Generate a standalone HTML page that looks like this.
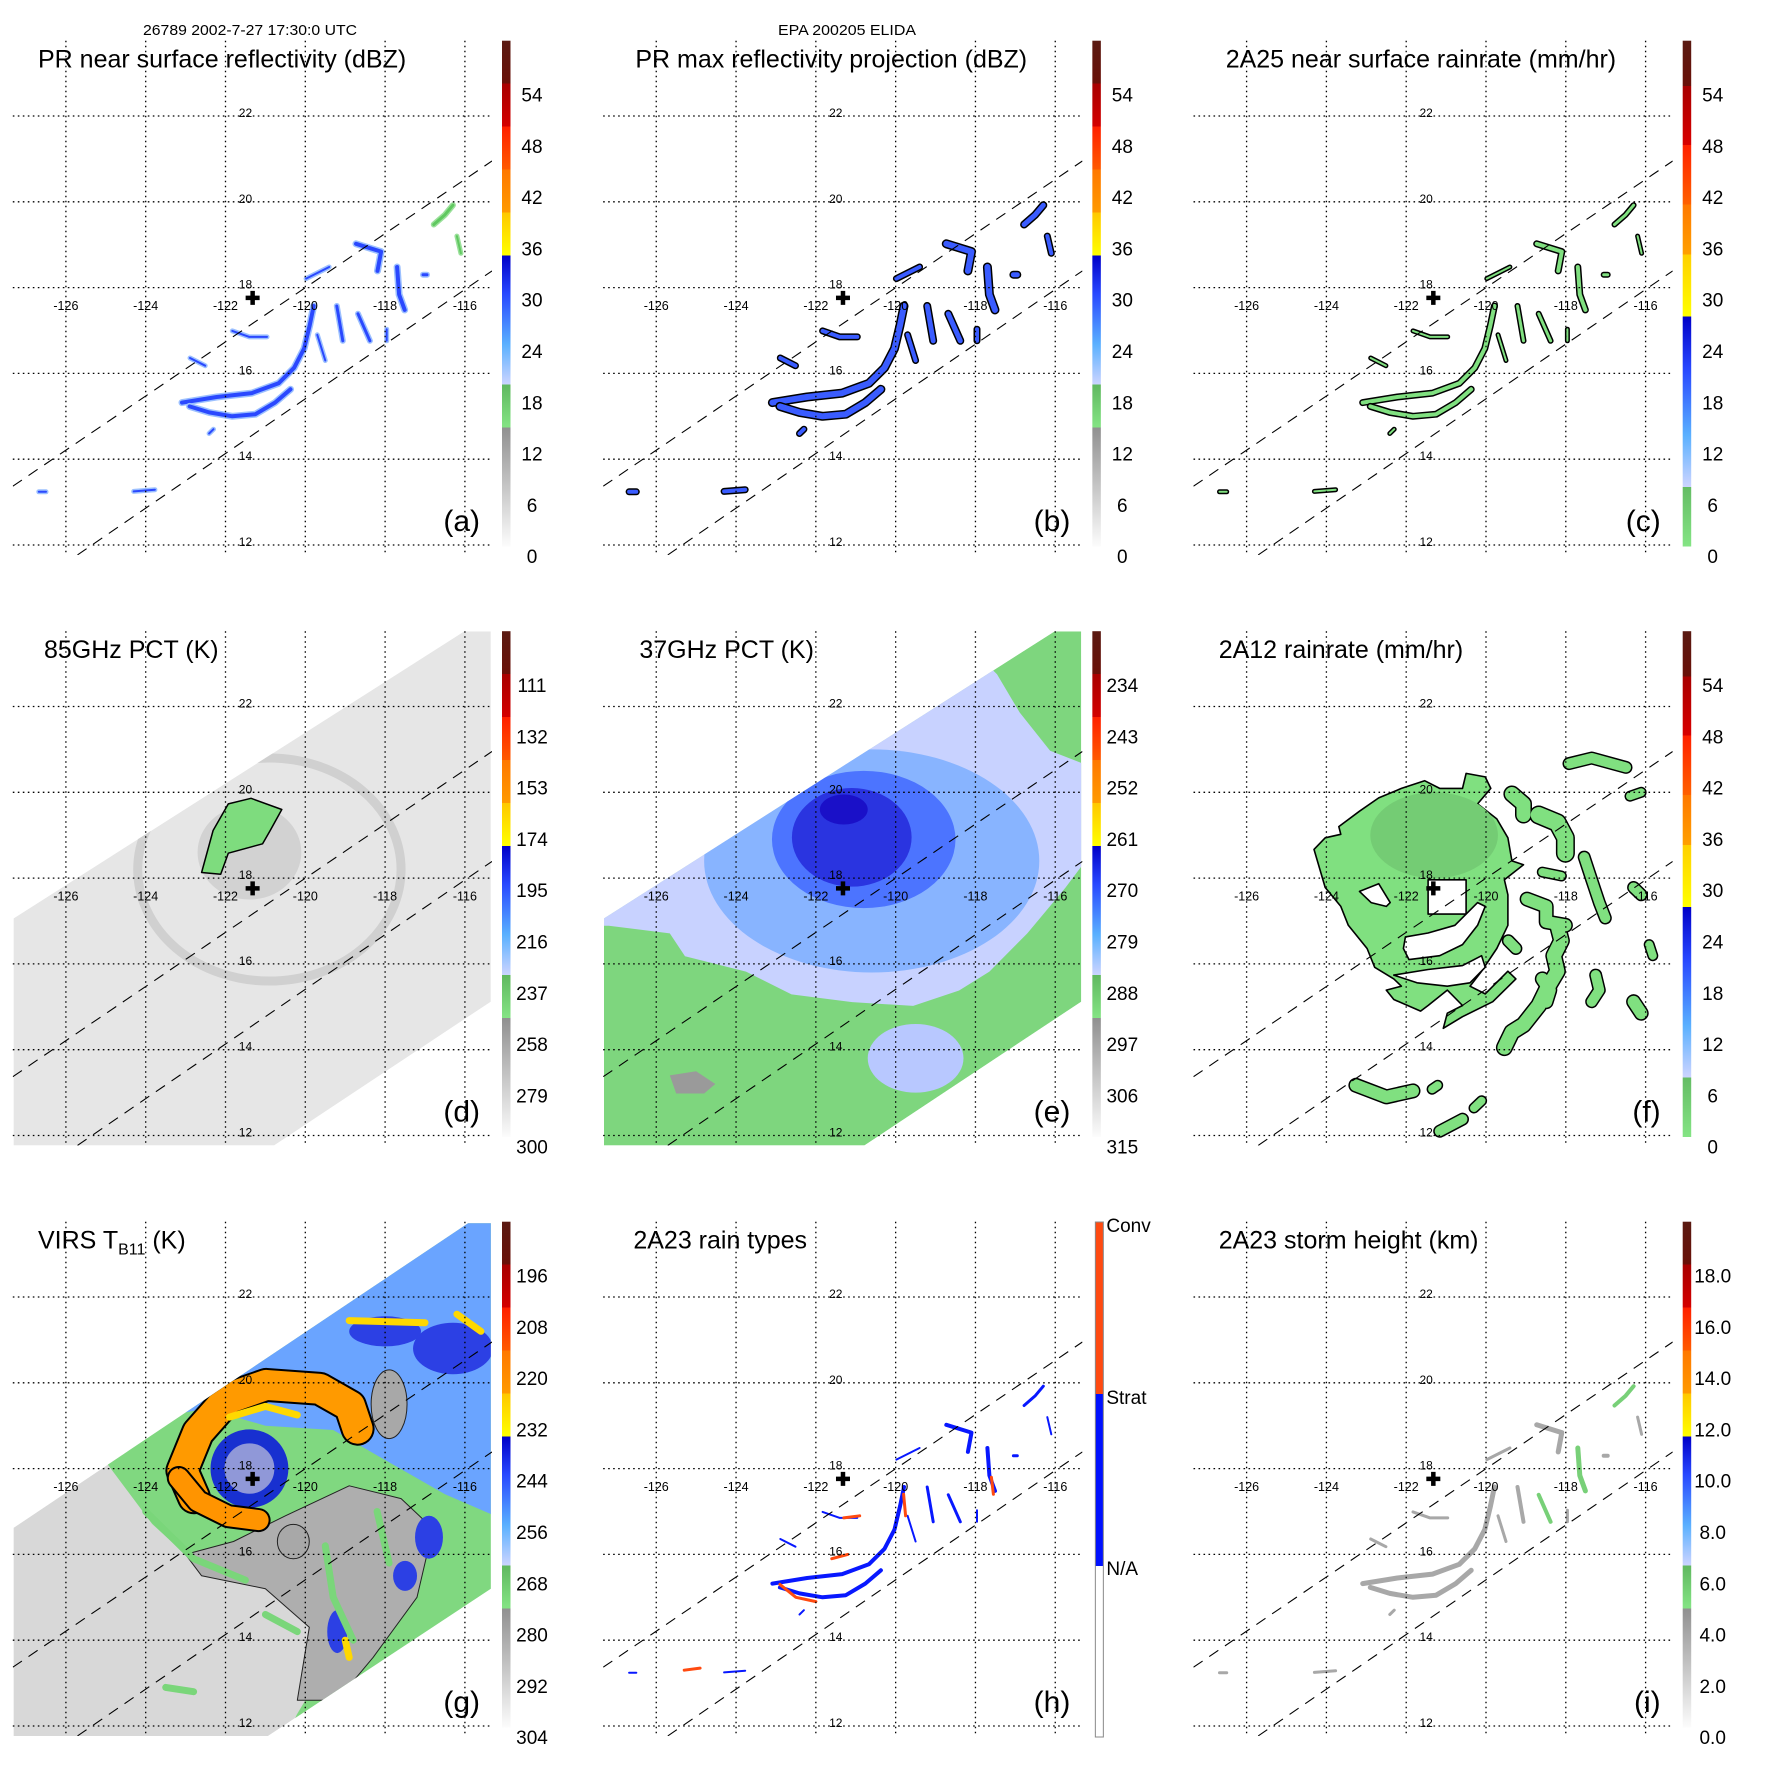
<!DOCTYPE html>
<html><head><meta charset="utf-8">
<style>html,body{margin:0;padding:0;background:#fff}svg{display:block}text{font-family:"Liberation Sans",Arial,sans-serif;fill:#000}</style>
</head><body>
<svg id="fig" width="1771" height="1771" viewBox="0 0 1771 1771" xmlns="http://www.w3.org/2000/svg">
<defs id="defs"></defs>
<rect x="0" y="0" width="1771" height="1771" fill="#fff"/>
<text x="250" y="35" font-size="15" text-anchor="middle" textLength="214" lengthAdjust="spacingAndGlyphs">26789 2002-7-27 17:30:0 UTC</text>
<text x="847" y="35" font-size="15" text-anchor="middle" textLength="138" lengthAdjust="spacingAndGlyphs">EPA 200205 ELIDA</text>
</svg>
<script>
// ---------- data ----------
const lonTicks = [-126,-124,-122,-120,-118,-116];
const latTicks = [22,20,18,16,14,12];
const stormCenter = [-121.32,17.76];
const prSwathUpper = [[-127.33,13.37],[-115.32,20.95]];
const prSwathLower = [[-125.71,11.77],[-115.32,18.39]];
const tmiSwath = [[-127.31,17.06],[-116.02,23.75],[-115.35,23.75],[-115.35,15.12],[-120.78,11.77],[-127.31,11.77]];
const virsSwath = [[-127.31,16.62],[-115.92,23.72],[-115.35,23.72],[-115.35,15.2],[-120.98,11.74],[-127.31,11.74]];

const labelsDbz = ['54','48','42','36','30','24','18','12','6','0'];
const labels85 = ['111','132','153','174','195','216','237','258','279','300'];
const labels37 = ['234','243','252','261','270','279','288','297','306','315'];
const labelsVirs = ['196','208','220','232','244','256','268','280','292','304'];
const labelsHeight = ['18.0','16.0','14.0','12.0','10.0','8.0','6.0','4.0','2.0','0.0'];
const rainTypeLabels = ['Conv','Strat','N/A'];

const prBands = [
 [[-123.09,15.32],[-122.22,15.45],[-121.34,15.54],[-120.67,15.77],[-120.28,16.13],[-120.03,16.58],[-119.89,17.12],[-119.79,17.57]],
 [[-122.90,15.23],[-122.41,15.09],[-121.83,15.00],[-121.25,15.05],[-120.76,15.32],[-120.37,15.63]],
 [[-122.89,16.36],[-122.51,16.18]],
 [[-121.83,16.99],[-121.4,16.85],[-120.96,16.85]],
 [[-119.21,17.57],[-119.06,16.76]],
 [[-118.68,17.39],[-118.38,16.76]],
 [[-117.96,17.03],[-117.96,16.76]],
 [[-118.73,19.02],[-118.10,18.84],[-118.19,18.39]],
 [[-117.70,18.48],[-117.65,17.84],[-117.51,17.48]],
 [[-117.05,18.30],[-116.95,18.30]],
 [[-119.98,18.21],[-119.40,18.48]],
 [[-126.68,13.24],[-126.5,13.24]],
 [[-124.3,13.25],[-123.77,13.29]],
 [[-122.41,14.6],[-122.3,14.7]],
 [[-119.7,16.9],[-119.5,16.3]],
 [[-116.78,19.47],[-116.5,19.7],[-116.30,19.92]],
 [[-116.2,19.2],[-116.1,18.8]]
];
const prBandWidths = [5,5,3,3,4,4,3,5,5,4,3,3,3,3,3,4,3];
const prGreenBands = [15,16];
const convBands = [
 [[-121.3,16.85],[-120.9,16.9]],
 [[-122.9,15.3],[-122.5,15.0],[-122.0,14.9]],
 [[-119.8,17.4],[-119.75,16.9]],
 [[-117.6,17.8],[-117.55,17.4]],
 [[-125.3,13.3],[-124.9,13.35]],
 [[-121.6,15.9],[-121.2,16.0]]
];

const d85Ring = [-120.9,18.2,3.3,2.6];
const d85Core = [-121.4,18.6,1.3,1.1];
const d85Blob = [[-122.60,18.13],[-122.31,19.11],[-121.93,19.73],[-121.36,19.86],[-120.59,19.60],[-120.88,19.11],[-121.07,18.80],[-121.93,18.58],[-122.12,18.09]];

const e37Lavender = [[-127.19,16.89],[-125.66,16.71],[-125.28,16.18],[-123.75,15.82],[-122.61,15.29],[-121.09,15.11],[-119.56,15.02],[-118.41,15.38],[-117.65,15.82],[-116.70,16.71],[-115.74,17.78],[-115.17,18.49],[-115.17,20.62],[-116.13,20.97],[-116.89,21.86],[-117.46,22.75],[-117.84,23.10],[-124,25],[-130,20],[-130,16.89]];
const e37LightBlue = [-120.6,18.4,4.2,2.6];
const e37MidBlue = [-120.8,18.9,2.3,1.6];
const e37DarkBlue = [-121.1,18.95,1.5,1.15];
const e37Deepest = [-121.3,19.6,0.6,0.35];
const e37LowerBlue = [-119.5,13.8,1.2,0.8];
const e37Gray = [[-125.66,13.4],[-125.0,13.5],[-124.52,13.2],[-124.8,12.98],[-125.5,12.98]];

const fMainBlob = [[-123.69,19.20],[-123.17,19.56],[-122.69,19.87],[-122.12,20.09],[-121.54,20.27],[-121.16,20.09],[-120.59,20.09],[-120.50,20.44],[-120.02,20.36],[-119.88,20.09],[-120.21,19.73],[-119.73,19.38],[-119.45,18.94],[-119.35,18.40],[-119.06,18.31],[-119.54,17.96],[-119.45,17.61],[-119.45,16.90],[-119.73,16.36],[-120.11,15.83],[-120.40,15.48],[-120.02,15.30],[-119.45,15.83],[-119.25,15.65],[-119.83,15.12],[-120.59,14.77],[-121.07,14.50],[-120.97,14.85],[-120.59,15.03],[-120.97,15.39],[-121.45,15.03],[-121.64,14.90],[-122.31,15.17],[-122.50,15.39],[-122.12,15.48],[-122.31,15.65],[-122.79,15.92],[-122.98,16.36],[-123.45,16.90],[-123.64,17.34],[-124.03,17.78],[-124.31,18.67],[-124.03,18.94],[-123.64,19.02]];
const fHoles = [
 [[-121.45,17.96],[-120.5,17.96],[-120.5,17.16],[-121.45,17.16]],
 [[-122.02,16.63],[-121.45,16.72],[-120.78,16.90],[-120.21,17.43],[-120.02,17.34],[-120.21,16.90],[-120.59,16.45],[-121.16,16.19],[-121.93,16.10],[-122.07,16.36]],
 [[-123.17,17.69],[-122.69,17.87],[-122.40,17.43],[-122.50,17.34],[-122.88,17.43]],
 [[-122.31,15.74],[-121.45,15.87],[-120.59,15.96],[-120.11,16.19],[-120.02,15.92],[-120.40,15.56],[-120.97,15.48],[-121.73,15.56]]
];
const fBands = [
 [[-119.35,19.96],[-119.06,19.73],[-119.06,19.47]],
 [[-118.68,19.47],[-118.21,19.29],[-118.01,18.94],[-118.01,18.58]],
 [[-117.92,20.67],[-117.35,20.80],[-116.49,20.58]],
 [[-116.39,19.91],[-116.11,20.00]],
 [[-117.54,18.49],[-117.35,17.96],[-117.16,17.43],[-117.01,17.07]],
 [[-118.59,18.14],[-118.11,18.05]],
 [[-118.97,17.51],[-118.49,17.34],[-118.49,16.98],[-118.01,16.90]],
 [[-118.21,16.90],[-118.11,16.54],[-118.30,16.19],[-118.21,15.83],[-118.49,15.39],[-118.68,15.03],[-119.06,14.58],[-119.35,14.41],[-119.54,14.05]],
 [[-118.59,15.65],[-118.40,15.39],[-118.49,15.12]],
 [[-119.44,16.54],[-119.25,16.36]],
 [[-117.25,15.74],[-117.16,15.39],[-117.35,15.12]],
 [[-116.30,15.12],[-116.11,14.85]],
 [[-115.91,16.45],[-115.82,16.19]],
 [[-116.30,17.78],[-116.11,17.61]],
 [[-123.26,13.17],[-122.50,12.90],[-121.83,13.04]],
 [[-121.16,12.10],[-120.59,12.38]],
 [[-120.30,12.64],[-120.11,12.81]],
 [[-121.35,13.08],[-121.21,13.17]]
];
const fBandWidths = [14,16,10,8,10,8,12,14,12,10,10,12,8,10,12,10,8,8];

const gGreenRegion = [[-124.98,18.13],[-123.84,16.71],[-122.69,15.73],[-120.98,15.29],[-119.45,14.49],[-119.64,13.16],[-120.21,12.27],[-120.6,11.5],[-114,11.5],[-114,25],[-126,25]];
const gLightBlueRegion = [[-123.6,19.2],[-122.5,19.4],[-121.0,19.0],[-119.3,18.9],[-118.0,18.2],[-116.5,17.4],[-114,16.4],[-114,25],[-124.5,25]];
const gGrayRegion = [[-123.0,16.0],[-121.8,16.3],[-120.5,16.9],[-118.9,17.6],[-117.6,17.3],[-116.8,16.6],[-117.2,15.0],[-118.3,13.6],[-119.2,12.6],[-120.2,12.6],[-119.9,14.3],[-121.0,15.2],[-122.6,15.5]];
const gGrayPatches = [[-117.9,19.5,0.45,0.8],[-120.3,16.3,0.4,0.4]];
const gBluePatches = [[-116.3,20.8,1.0,0.6],[-118.0,21.2,0.9,0.35],[-116.9,16.4,0.35,0.5],[-119.2,14.2,0.25,0.5],[-117.5,15.5,0.3,0.35]];
const gOuterArc = [[-122.79,17.33],[-123.08,17.95],[-122.69,18.84],[-121.93,19.64],[-120.98,19.95],[-119.64,19.86],[-118.88,19.46],[-118.69,18.93]];
const gLowerArc = [[-123.17,17.78],[-122.69,17.24],[-121.93,16.89],[-121.17,16.80]];
const gYellowStreaks = [[[-118.9,21.45],[-117.0,21.4]],[[-116.2,21.6],[-115.6,21.2]],[[-121.9,19.2],[-121.0,19.45],[-120.2,19.25]],[[-119.0,14.0],[-118.9,13.6]]];
const gGreenLines = [[[-124.0,17.0],[-122.8,15.9],[-121.5,15.4]],[[-123.5,12.9],[-122.8,12.8]],[[-121.0,14.6],[-120.2,14.2]],[[-119.5,16.2],[-119.3,15.0],[-118.8,14.0]],[[-118.2,17.0],[-117.9,15.8]]];
const gEyeRing = [-121.4,18.0,0.8,0.75];

// ---------- rendering ----------
const NS='http://www.w3.org/2000/svg';
const svg=document.getElementById('fig');
const defs=document.getElementById('defs');
function mk(tag,attrs,parent){const e=document.createElementNS(NS,tag);for(const k in attrs)e.setAttribute(k,attrs[k]);parent.appendChild(e);return e;}
function geo(ox,oy){return {x:lon=>ox+65.9+(lon+126)*39.9,y:lat=>oy+116+(22-lat)*42.9};}
function pts(g,a){return a.map(p=>g.x(p[0]).toFixed(1)+','+g.y(p[1]).toFixed(1)).join(' ');}
function poly(par,g,a,fill,stroke,sw,name){const e=mk('polygon',{points:pts(g,a),fill:fill,stroke:stroke||'none','stroke-width':sw||0,'stroke-linejoin':'round'},par);


return e;}
function pline(par,g,a,color,w,name){const e=mk('polyline',{points:pts(g,a),fill:'none',stroke:color,'stroke-width':w,'stroke-linecap':'round','stroke-linejoin':'round'},par);


return e;}
function ell(par,g,d,fill,name,extra){const e=mk('ellipse',{cx:g.x(d[0]),cy:g.y(d[1]),rx:d[2]*39.9,ry:d[3]*42.9,fill:fill},par);
for(const k in (extra||{}))e.setAttribute(k,extra[k]);


return e;}

function grad(id,stops){const lg=mk('linearGradient',{id:id,x1:0,y1:0,x2:0,y2:1},defs);stops.forEach(s=>mk('stop',{offset:s[0],'stop-color':s[1]},lg));}
grad('palA',[[0,'#5a1a12'],[0.085,'#6a1008'],[0.085,'#a80000'],[0.17,'#d40000'],[0.17,'#ff2000'],[0.255,'#ff5a00'],[0.255,'#ff7800'],[0.34,'#ff9a00'],[0.34,'#ffc800'],[0.425,'#ffff00'],[0.425,'#0000c8'],[0.5,'#2848ff'],[0.6,'#5ab0ff'],[0.68,'#ccd4ff'],[0.68,'#60b860'],[0.765,'#84e484'],[0.765,'#909090'],[1,'#fcfcfc']]);
grad('palF',[[0,'#5a1a12'],[0.09,'#6a1008'],[0.09,'#a80000'],[0.206,'#d80000'],[0.206,'#ff2000'],[0.324,'#ff6000'],[0.324,'#ff7800'],[0.423,'#ffa000'],[0.423,'#ffd000'],[0.545,'#ffff00'],[0.545,'#0000c8'],[0.65,'#2848ff'],[0.78,'#5ab0ff'],[0.882,'#ccd4ff'],[0.882,'#64bc64'],[1,'#84e484']]);

const panels=[
 {id:'a',col:0,row:0,title:'PR near surface reflectivity (dBZ)',tx:38,labels:labelsDbz,pal:'palA',kind:'pr'},
 {id:'b',col:1,row:0,title:'PR max reflectivity projection (dBZ)',tx:45,labels:labelsDbz,pal:'palA',kind:'pr'},
 {id:'c',col:2,row:0,title:'2A25 near surface rainrate (mm/hr)',tx:45,labels:labelsDbz,pal:'palF',kind:'pr'},
 {id:'d',col:0,row:1,title:'85GHz PCT (K)',tx:44,labels:labels85,pal:'palA',kind:'d'},
 {id:'e',col:1,row:1,title:'37GHz PCT (K)',tx:49,labels:labels37,pal:'palA',kind:'e'},
 {id:'f',col:2,row:1,title:'2A12 rainrate (mm/hr)',tx:38,labels:labelsDbz,pal:'palF',kind:'f'},
 {id:'g',col:0,row:2,title:'VIRS',tx:38,labels:labelsVirs,pal:'palA',kind:'g'},
 {id:'h',col:1,row:2,title:'2A23 rain types',tx:43,labels:null,pal:null,kind:'pr'},
 {id:'i',col:2,row:2,title:'2A23 storm height (km)',tx:38,labels:labelsHeight,pal:'palA',kind:'pr'}
];

function drawPR(par,g,id){
 prBands.forEach((b,i)=>{
  const w=prBandWidths[i];const green=prGreenBands.includes(i);
  if(id==='a'){pline(par,g,b,green?'#9ae09a':'#9cc0ff',w+2,'rain-cell-halo');pline(par,g,b,green?'#60c860':'#2a48ff',w-1,'rain-cell');}
  else if(id==='b'){pline(par,g,b,'#000',w+4,'rain-cell-contour');pline(par,g,b,'#3a5cff',w+1,'rain-cell');}
  else if(id==='c'){pline(par,g,b,'#000',w+2,'rain-cell-contour');pline(par,g,b,'#80e080',w-1,'rain-cell');}
  else if(id==='h'){pline(par,g,b,'#0818ff',w-1,'stratiform-cell');}
  else if(id==='i'){pline(par,g,b,(i===5||i===8||i===15)?'#78d078':'#a8a8a8',w,'storm-height-cell');}
 });
 if(id==='h'){convBands.forEach(b=>pline(par,g,b,'#ff4a10',3,'convective-cell'));}
}

panels.forEach(P=>{
 const ox=P.col*590.35, oy=P.row*590.5, g=geo(ox,oy);
 const grp=mk('g',{},svg);
 
 
 const cp=mk('clipPath',{id:'clip'+P.id},defs);
 mk('rect',{x:ox+12.8,y:oy+40.7,width:479.2,height:514.3},cp);
 const img=mk('g',{'clip-path':'url(#clip'+P.id+')'},grp);
 
 
 if(P.kind==='pr') drawPR(img,g,P.id);
 if(P.kind==='d'||P.kind==='e'||P.kind==='g'){
  const sc=mk('clipPath',{id:'sw'+P.id},defs);
  mk('polygon',{points:pts(g,P.kind==='g'?virsSwath:tmiSwath)},sc);
  const sg=mk('g',{'clip-path':'url(#sw'+P.id+')'},img);
  
  
  if(P.kind==='d'){
   poly(sg,g,tmiSwath,'#e6e6e6','','', 'swath-background');
   ell(sg,g,d85Ring,'none','rainband-ring',{stroke:'#d0d0d0','stroke-width':9});
   ell(sg,g,d85Core,'#d2d2d2','inner-core');
   poly(sg,g,d85Blob,'#7edc7e','#000',1.5,'ice-scattering-region');
  }
  if(P.kind==='e'){
   poly(sg,g,tmiSwath,'#7ed67e','','', 'swath-background');
   poly(sg,g,e37Lavender,'#c8d2ff','','', 'light-precip-region');
   ell(sg,g,e37LowerBlue,'#b8c8ff','southern-rain');
   ell(sg,g,e37LightBlue,'#88b4ff','moderate-rain-region');
   ell(sg,g,e37MidBlue,'#4c74ff','heavy-rain-region');
   ell(sg,g,e37DarkBlue,'#2a34e0','core-rain-region');
   ell(sg,g,e37Deepest,'#1a10c8','max-rain-region');
   poly(sg,g,e37Gray,'#9a9a9a','','', 'warm-patch');
  }
  if(P.kind==='g'){
   poly(sg,g,virsSwath,'#d8d8d8','','', 'swath-background');
   poly(sg,g,gGreenRegion,'#80d880','','', 'cloud-region');
   poly(sg,g,gLightBlueRegion,'#6aa4ff','','', 'cold-cloud-region');
   poly(sg,g,gGrayRegion,'#aeaeae','#222',1,'warm-cloud-region');
   gBluePatches.forEach(d=>ell(sg,g,d,'#2c40e4','very-cold-cloud'));
   gGrayPatches.forEach(d=>ell(sg,g,d,'#a8a8a8','warm-gap',{stroke:'#222','stroke-width':1}));
   gGreenLines.forEach(l=>pline(sg,g,l,'#7ad67a',7,'rainband'));
   ell(sg,g,gEyeRing,'#9098d8','eyewall-ring',{stroke:'#1830d0','stroke-width':14});
   pline(sg,g,gOuterArc,'#000',34,'spiral-contour');
   pline(sg,g,gOuterArc,'#ff9a00',30,'spiral-band-outer');
   pline(sg,g,gLowerArc,'#000',24,'spiral-contour');
   pline(sg,g,gLowerArc,'#ff9400',20,'spiral-band-lower');
   gYellowStreaks.forEach(l=>pline(sg,g,l,'#ffd800',7,'coldest-tops'));
  }
 }
 if(P.kind==='f'){
  fBands.forEach((b,i)=>pline(img,g,b,'#000',fBandWidths[i]+3,'rainband-contour'));
  fBands.forEach((b,i)=>pline(img,g,b,'#80e080',fBandWidths[i],'rainband'));
  poly(img,g,fMainBlob,'#80e080','#000',1.6,'main-rain-shield');
  ell(img,g,[-121.3,19.0,1.6,1.0],'#74cc74','heavier-rain');
  fHoles.forEach(h=>poly(img,g,h,'#fff','#000',1.6,'rain-free-hole'));
 }
 const gg=mk('g',{stroke:'#000','stroke-width':1.3,'stroke-dasharray':'1.6 3.4'},grp);
 
 
 latTicks.forEach(l=>{const e=mk('line',{x1:ox+12.8,x2:ox+492,y1:g.y(l),y2:g.y(l)},gg);
  
  });
 lonTicks.forEach(l=>{const e=mk('line',{x1:g.x(l),x2:g.x(l),y1:oy+40.7,y2:oy+555},gg);
  
  });
 const sw=mk('g',{'clip-path':'url(#clip'+P.id+')',stroke:'#000','stroke-width':1.1,'stroke-dasharray':'11 8',fill:'none'},grp);
 
 
 [prSwathUpper,prSwathLower].forEach(s=>{const e=mk('polyline',{points:pts(g,s)},sw);
  
  });
 latTicks.forEach(l=>{const t=mk('text',{x:g.x(-121.5),y:g.y(l)+1,'font-size':12,'text-anchor':'middle'},grp);t.textContent=String(l);
  
  });
 lonTicks.forEach(l=>{const t=mk('text',{x:g.x(l),y:oy+310,'font-size':12.5,'text-anchor':'middle'},grp);t.textContent=String(l);
  
  });
 const cx=g.x(stormCenter[0]),cy=g.y(stormCenter[1]);
 const cr=mk('path',{d:`M${cx-7},${cy}H${cx+7}M${cx},${cy-7}V${cy+7}`,stroke:'#000','stroke-width':4.5,fill:'none'},grp);
 
 
 const tt=mk('text',{x:ox+P.tx,y:oy+67.7,'font-size':25},grp);
 
 
 if(P.kind==='g'){
  tt.textContent='VIRS T';
  const s=mk('tspan',{'font-size':16,dy:6},tt);s.textContent='B11';
  const s2=mk('tspan',{dy:-6},tt);s2.textContent=' (K)';
 } else tt.textContent=P.title;
 const lt=mk('text',{x:ox+480,y:oy+531,'font-size':30,'text-anchor':'end'},grp);lt.textContent='('+P.id+')';
 
 
 if(P.labels){
  const cb=mk('rect',{x:ox+502,y:oy+40.7,width:8.5,height:505.8,fill:'url(#'+P.pal+')'},grp);
  
  
  P.labels.forEach((s,i)=>{const t=mk('text',{x:ox+532,y:oy+94.8+i*51.28+6.8,'font-size':19,'text-anchor':'middle'},grp);t.textContent=s;
   
   });
 } else {
  const segs=[['#ff4a10',41,213],['#0010ff',213,385],['#ffffff',385,556]];
  segs.forEach(sg=>{const r=mk('rect',{x:ox+505,y:oy+sg[1],width:8,height:sg[2]-sg[1],fill:sg[0]},grp);
   
   });
  const ob=mk('rect',{x:ox+505,y:oy+41,width:8,height:515,fill:'none',stroke:'#888','stroke-width':1},grp);
  
  
  rainTypeLabels.forEach((s,i)=>{const t=mk('text',{x:ox+516,y:oy+[51,223,394][i],'font-size':19},grp);t.textContent=s;
   
   });
 }
});
</script>
</body></html>
